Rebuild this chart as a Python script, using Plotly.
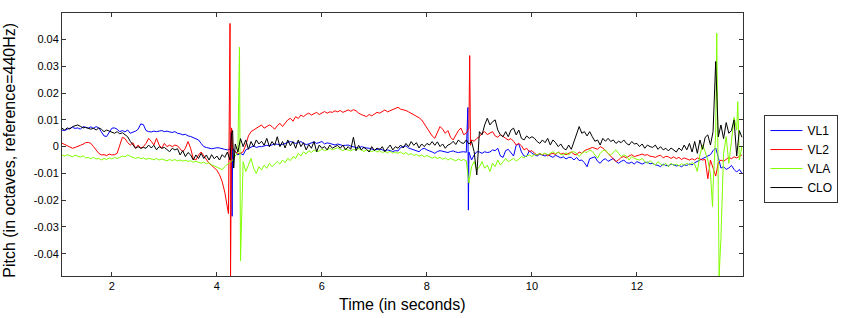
import numpy as np
import plotly.graph_objects as go

# Sampling grid (seconds) for the pitch tracks
T0 = 1.05
DT = 0.05

# Pitch values in milli-octaves (1e-3 octave), one row per second: 1.05..2.00, 2.05..3.00, ...
vl1_milli = [
    6.2, 6.0, 6.5, 6.9, 7.2, 6.8, 7.0, 6.5, 7.5, 7.2, 6.9, 7.4, 6.8, 7.5, 7.0, 5.5, 4.0, 3.8, 5.5, 6.9,
    7.0, 6.5, 5.6, 6.0, 5.5, 6.2, 5.0, 5.3, 5.8, 6.5, 8.5, 8.2, 6.0, 5.6, 5.5, 5.8, 5.6, 5.8, 6.0, 5.6,
    5.8, 5.5, 5.3, 5.6, 5.0, 4.8, 4.4, 4.6, 4.0, 3.8, 3.3, 3.0, 2.5, 1.2, 0.0, -0.3, -0.6, -0.8, -0.6, -0.4,
    -0.5, -0.9, -1.0, -1.2, -1.0, -0.6, -1.9, -3.1, -2.5, -3.1, -1.2, -0.6, 0.0, 0.3, -0.3, 0.0, 0.0, 0.2, 0.5, 0.3,
    0.6, 1.0, 0.9, 0.6, 0.8, 1.2, 1.5, 1.9, 1.6, 1.2, 1.5, 1.9, 1.2, 0.8, 1.0, 1.4, 1.8, 1.2, 1.5, 1.9,
    1.0, 1.4, 1.2, 0.8, 0.6, 1.0, 0.6, 0.4, 0.5, 0.6, 0.2, 0.0, -0.3, -0.6, 0.0, -0.3, -0.5, -0.6, -0.8, -1.2,
    -1.0, -0.8, -1.2, -1.5, -1.2, -1.6, -1.8, -1.5, -1.6, -0.3, 0.0, 0.3, -0.5, -0.9, -1.2, -1.6, -1.9, -1.0, -0.6, -1.2,
    -1.5, -2.0, -2.5, -1.8, -1.5, -1.8, -2.0, -2.2, -1.8, -1.6, -2.0, -2.2, -2.0, -1.9, -2.1, -2.0, -5.0, -3.1, -1.9, -2.0,
    -2.5, -1.9, -2.2, -2.0, -1.2, -1.5, -0.6, -3.5, -4.0, -1.5, -1.0, -2.5, -3.5, 0.5, 1.0, -2.0, -3.5, -3.7, -1.5, -2.5,
    -3.0, -3.5, -2.8, -3.2, -3.5, -3.0, -3.5, -4.0, -3.2, -3.8, -4.2, -3.8, -4.6, -4.0, -4.0, -5.0, -4.0, -5.2, -5.0, -6.0,
    -7.5, -4.5, -4.0, -3.8, -5.5, -6.2, -5.0, -4.5, -5.5, -5.0, -4.4, -5.5, -6.2, -5.5, -5.0, -6.0, -6.2, -5.8, -6.5, -5.6,
    -6.0, -6.5, -6.0, -5.8, -6.4, -6.2, -6.8, -7.0, -7.5, -6.5, -7.0, -7.2, -6.5, -6.8, -7.2, -7.0, -7.5, -6.8, -7.0, -6.5,
    -6.8, -6.0, -5.5, -5.0, -4.5, -4.0, -3.5, -3.0, -1.5, -0.5, -4.0, -8.0, -7.5, -8.5, -8.0, -7.0, -8.5, -9.5, -8.5, -10.0,
]
vl1_spike_t = [4.27, 4.29, 8.78, 8.79]
vl1_spike_milli = [5.6, -26.0, 14.6, -23.7]

vl2_milli = [
    1.3, 0.8, 0.2, -0.4, -0.6, -0.3, 0.0, 0.5, 0.9, 1.5, 1.6, 1.2, 0.0, -1.5, -2.5, -3.1, -3.0, -3.3, -2.8, -3.1,
    -3.0, -2.5, 0.5, 3.5, 3.0, 1.5, 0.6, 1.5, -0.6, 0.6, -0.6, 0.0, 1.2, 3.1, 2.0, 0.6, 3.1, 0.6, -0.6, 1.2,
    0.0, 0.6, 0.0, 0.6, 0.3, -1.0, -1.9, -0.6, 1.9, -0.6, -4.5, -5.0, -3.1, -2.0, -3.5, -5.0, -6.2, -7.0, -8.0, -8.8,
    -10.5, -13.0, -17.0, -22.0, 46.0, -1.0, -1.9, -2.5, -2.5, -1.9, 0.6, 4.0, 5.6, 6.2, 6.9, 7.5, 8.1, 6.9, 7.5, 8.1,
    7.5, 6.5, 7.8, 8.7, 7.5, 9.0, 10.0, 10.6, 9.5, 11.2, 10.5, 11.8, 11.2, 12.0, 12.5, 11.8, 12.2, 12.8, 12.0, 12.5,
    13.1, 12.5, 13.0, 12.8, 13.4, 13.0, 13.5, 12.8, 13.2, 13.7, 13.2, 13.8, 13.4, 12.5, 12.0, 11.5, 11.2, 12.0, 11.5, 12.2,
    12.8, 12.5, 13.2, 13.7, 13.0, 13.5, 14.0, 14.5, 14.7, 14.0, 13.8, 13.5, 13.0, 12.5, 12.0, 11.5, 10.8, 10.0, 8.5, 7.0,
    5.5, 4.0, 3.1, 5.0, 7.5, 6.5, 5.0, 6.0, 3.5, 2.5, 4.0, 6.0, 6.9, 4.5, 5.0, 6.9, 2.5, 2.0, 3.1, 3.7,
    5.0, 5.6, 4.5, 5.0, 5.6, 4.0, 3.5, 4.5, 3.7, 3.1, 2.5, 3.0, 2.0, 0.6, 1.2, 0.3, -1.2, -0.6, -1.9, -1.5,
    -2.5, -3.1, -2.5, -3.1, -2.5, -3.5, -2.8, -2.5, -3.0, -2.0, -2.8, -2.5, -3.0, -2.5, -2.0, -2.8, -3.1, -2.0, -2.5, -1.5,
    -1.0, -0.6, -0.3, -0.6, -1.0, 0.0, -0.5, -1.5, -2.5, -3.5, -4.5, -5.6, -5.0, -4.0, -3.7, -4.2, -3.5, -3.0, -3.7, -3.5,
    -3.1, -2.8, -3.2, -3.0, -3.6, -3.7, -4.0, -3.5, -3.2, -4.2, -3.6, -3.8, -4.4, -3.8, -4.5, -4.0, -4.8, -4.2, -4.5, -5.0,
    -4.5, -5.0, -4.2, -4.5, -5.0, -4.8, -12.0, -5.0, -8.0, -11.0, -6.0, -5.0, -5.5, -4.8, -4.0, -4.5, -3.8, -4.2, -3.5, -3.1,
]
vl2_spike_t = [4.22, 4.26, 4.28, 8.815, 8.83]
vl2_spike_milli = [-25.0, -48.3, 7.0, 34.0, 0.5]

vla_milli = [
    -3.1, -3.5, -3.0, -3.4, -3.8, -3.2, -3.6, -3.9, -3.4, -4.2, -4.0, -4.5, -4.0, -4.6, -4.4, -5.0, -4.4, -4.8, -4.2, -4.6,
    -4.0, -4.4, -4.0, -3.5, -3.8, -3.1, -3.6, -3.9, -4.4, -4.0, -4.5, -4.2, -4.8, -4.3, -4.6, -4.9, -4.4, -5.0, -4.6, -4.9,
    -5.3, -4.8, -5.2, -4.8, -5.3, -5.0, -5.4, -5.1, -5.5, -5.3, -5.8, -5.5, -5.9, -6.2, -5.8, -6.4, -6.0, -6.8, -7.2, -7.6,
    -8.2, -8.6, -7.5, -6.5, -6.0, -5.0, -3.5, -2.0, -42.6, -5.6, -9.3, -6.9, -4.4, -8.1, -10.0, -7.5, -8.7, -6.9, -8.1, -6.2,
    -7.5, -6.5, -5.6, -6.5, -5.0, -6.0, -4.4, -5.2, -3.7, -4.4, -2.5, -3.5, -1.9, -2.8, -1.5, -2.2, -1.2, -1.9, -1.6, -0.9,
    -1.5, -1.2, -0.6, -1.2, -0.8, -0.4, -1.0, -1.5, -0.9, -1.2, -1.6, -1.0, -1.3, -0.7, -1.4, -1.8, -1.2, -1.6, -1.9, -1.3,
    -2.0, -1.5, -2.2, -1.8, -2.3, -1.7, -2.4, -2.0, -2.5, -2.0, -2.8, -2.2, -3.0, -2.6, -3.3, -2.9, -3.6, -3.1, -3.8, -3.3,
    -3.9, -4.3, -3.8, -4.4, -4.0, -4.7, -4.2, -5.0, -4.4, -4.9, -5.3, -4.6, -5.2, -4.8, -5.3, -13.5, -7.5, -5.6, -8.7, -7.5,
    -5.6, -8.1, -6.9, -9.3, -6.2, -7.5, -5.0, -6.9, -5.6, -4.4, -5.6, -5.0, -4.4, -5.3, -4.7, -3.7, -4.2, -3.4, -3.1, -3.7,
    -2.8, -3.1, -2.5, -3.0, -2.4, -3.1, -2.5, -1.9, -2.6, -2.0, -2.9, -3.1, -2.3, -3.1, -2.0, -1.9, -2.5, -3.7, -2.5, -1.9,
    -2.2, -1.2, -1.8, -3.1, -4.3, -2.5, -1.5, -1.2, -2.5, -3.1, -2.0, -1.2, -2.5, -3.7, -3.1, -3.5, -5.0, -3.7, -4.4, -4.8,
    -5.0, -4.4, -5.6, -6.2, -5.2, -6.2, -6.9, -5.6, -6.5, -7.0, -6.2, -7.5, -6.2, -7.0, -6.5, -7.2, -6.4, -7.0, -6.2, -6.8,
    -6.0, -6.5, -9.3, -3.1, 0.6, -1.9, -5.0, -10.0, -15.0, 5.0, -20.0, -34.0, -2.5, 3.7, -6.2, 2.0, 11.0, 6.2, -5.0, 0.0,
]
vla_spike_t = [4.43, 13.44, 13.52, 13.565, 13.92]
vla_spike_milli = [37.2, -22.4, 42.4, -48.3, 16.8]

clo_milli = [
    6.9, 6.2, 7.0, 6.6, 7.5, 7.8, 8.1, 7.6, 7.0, 7.2, 6.9, 6.5, 6.9, 6.2, 7.0, 6.5, 5.6, 6.2, 5.8, 5.3,
    5.0, 5.6, 4.8, 5.2, 4.4, 3.7, 2.0, 0.6, -0.6, 0.0, -0.6, -0.3, -0.6, 0.6, -0.5, 0.5, -1.2, 0.0, -0.6, -0.3,
    -1.0, -1.9, -0.6, -1.2, -0.8, -3.1, -1.5, -3.7, -2.2, -3.1, -5.0, -3.1, -4.4, -2.5, -4.4, -3.1, -5.0, -3.0, -4.5, -3.5,
    -5.0, -3.0, -4.0, -2.0, -5.0, 6.0, 1.0, -2.0, 3.0, 0.0, 2.5, -1.0, 1.9, 0.0, 2.5, 1.0, 2.0, 0.5, 3.1, 0.0,
    1.9, 0.5, 3.7, 0.0, 1.9, -0.5, 2.5, 0.3, 1.9, -0.6, 2.5, 0.0, 1.5, -1.2, 0.8, -0.6, 1.9, -1.9, 0.6, -0.6,
    0.0, -1.2, 0.6, -0.6, 0.0, 0.5, -0.6, 0.6, -1.2, 0.0, -1.0, 3.5, -1.5, 0.5, -1.2, -0.3, -1.0, -2.0, 0.0, -1.5,
    -0.5, -1.2, 0.0, -1.9, -0.6, 0.6, -1.2, 0.0, -0.6, 0.6, -0.5, 1.2, 0.0, 1.9, 0.5, 1.5, -0.5, 1.0, 0.0, 1.2,
    0.6, 1.9, 0.5, 1.8, 0.0, 1.0, -0.6, 0.6, 1.0, 2.0, 0.8, 2.5, 1.5, 1.2, 2.5, 1.0, 1.9, -1.9, -10.6, 5.6,
    4.4, 8.1, 10.6, 8.1, 9.3, 10.0, 6.2, 4.4, 3.7, 5.6, 3.7, 6.2, 6.9, 4.4, 6.2, 3.1, 2.5, 4.0, 3.1, 3.7,
    3.1, 1.9, 1.2, 2.5, 1.5, 3.1, 0.6, 2.5, 1.5, 0.0, 1.0, -0.6, -1.2, 0.6, -1.0, 1.9, 4.4, 7.5, 5.0, 5.6,
    4.0, 5.6, 3.7, 2.0, 2.5, 0.6, 3.1, 2.0, 3.1, 1.9, 2.5, 1.2, 2.0, 1.5, 2.5, 1.2, 0.6, 1.9, 1.0, 1.2,
    0.0, 1.0, -0.6, 0.6, 0.0, -0.3, 0.6, -1.0, 0.0, -1.2, -0.6, -1.6, -0.5, -1.2, -2.0, -0.5, -1.5, 0.6, -1.2, 1.2,
    -2.0, 1.9, -2.5, 2.5, -1.0, 3.5, 4.4, 0.6, 5.6, 31.8, 3.7, 8.1, 3.0, 9.0, 5.0, 6.0, 10.0, -3.5, 6.0, 3.5,
]
clo_spike_t = [4.28, 4.32]
clo_spike_milli = [5.0, -8.0]

series_names = ["VL1", "VL2", "VLA", "CLO"]
series_colors = ["#0000FF", "#FF0000", "#80FF00", "#000000"]

x_tick_vals = [2, 4, 6, 8, 10, 12]
y_tick_vals = [-0.04, -0.03, -0.02, -0.01, 0, 0.01, 0.02, 0.03, 0.04]
y_tick_text = ["-0.04", "-0.03", "-0.02", "-0.01", "0", "0.01", "0.02", "0.03", "0.04"]


def build(vals, extra_t, extra_v):
    t = T0 + DT * np.arange(len(vals))
    t = np.concatenate([t, np.array(extra_t, dtype=float)])
    v = np.concatenate([np.array(vals, dtype=float), np.array(extra_v, dtype=float)])
    order = np.argsort(t, kind="stable")
    return t[order], v[order] / 1000.0


data = [
    build(vl1_milli, vl1_spike_t, vl1_spike_milli),
    build(vl2_milli, vl2_spike_t, vl2_spike_milli),
    build(vla_milli, vla_spike_t, vla_spike_milli),
    build(clo_milli, clo_spike_t, clo_spike_milli),
]

FONT = "Liberation Sans, Arial, Helvetica, sans-serif"

fig = go.Figure()
for (t, v), name, color in zip(data, series_names, series_colors):
    fig.add_trace(go.Scatter(x=t, y=v, mode="lines", name=name,
                             line=dict(color=color, width=1)))

axis_common = dict(
    showline=True, linecolor="#333333", linewidth=1, mirror="ticks",
    ticks="inside", ticklen=4, tickcolor="#333333", tickwidth=1,
    showgrid=False, zeroline=False,
    tickfont=dict(family=FONT, size=11, color="#000000"),
)

fig.update_layout(
    width=850, height=318,
    margin=dict(l=62, r=107, t=13, b=42),
    paper_bgcolor="white", plot_bgcolor="white",
    font=dict(family=FONT, color="#000000"),
    showlegend=True,
    legend=dict(
        x=1.0315, y=0.612, xanchor="left", yanchor="top",
        bordercolor="#333333", borderwidth=1, bgcolor="white",
        font=dict(family=FONT, size=12, color="#000000"),
        tracegroupgap=0, itemwidth=32,
    ),
    xaxis=dict(range=[1.05, 14.02], tickvals=x_tick_vals, **axis_common),
    yaxis=dict(range=[-0.0483, 0.0499], tickvals=y_tick_vals, ticktext=y_tick_text, **axis_common),
    annotations=[
        dict(text="Time (in seconds)", xref="paper", yref="paper", x=0.5, y=-0.11,
             xanchor="center", yanchor="middle", showarrow=False,
             font=dict(family=FONT, size=16, color="#000000")),
        dict(text="Pitch (in octaves, reference=440Hz)", xref="paper", yref="paper",
             x=-0.0764, y=0.48, xanchor="center", yanchor="middle", textangle=-90,
             showarrow=False, font=dict(family=FONT, size=16, color="#000000")),
    ],
)

fig.write_html("out.html", config={"displayModeBar": False},
               post_script="document.body.style.margin='0px';")
